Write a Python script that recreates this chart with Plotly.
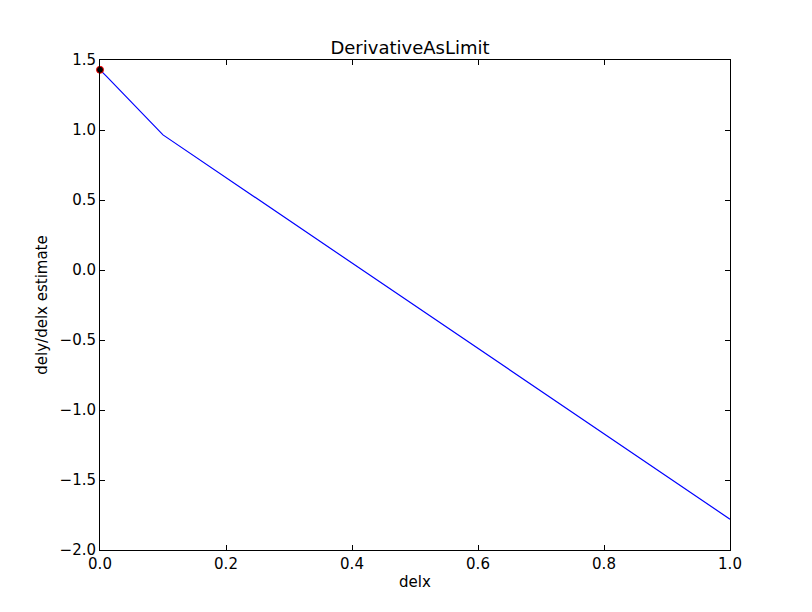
import plotly.graph_objects as go

delx = [1.0, 0.1, 0.01, 0.001, 0.0001]
estimate = [-1.78, 0.965, 1.385, 1.425, 1.429]
limit_x = [0.0]
limit_y = [1.43]

FONT = "DejaVu Sans"

fig = go.Figure()
fig.add_trace(go.Scatter(x=delx, y=estimate, mode="lines",
                         line=dict(color="#0000ff", width=1.2), showlegend=False))
fig.add_trace(go.Scatter(x=limit_x, y=limit_y, mode="markers",
                         marker=dict(color="black", size=7, line=dict(color="red", width=1)),
                         showlegend=False, cliponaxis=False))

axis_common = dict(showline=True, linecolor="black", linewidth=1, mirror="ticks",
                   ticks="inside", ticklen=5, tickcolor="black", showgrid=False,
                   zeroline=False, tickfont=dict(family=FONT, size=15, color="black"))
fig.update_layout(
    width=800, height=600,
    margin=dict(l=92, r=78, t=52, b=58),
    paper_bgcolor="white", plot_bgcolor="white",
    title=dict(text="DerivativeAsLimit", x=0.5125 - 8 / 800, xanchor="center", y=1 - 46 / 600, yanchor="bottom",
               font=dict(family=FONT, size=18, color="black")),
    xaxis=dict(range=[0, 1], tickvals=[0, 0.2, 0.4, 0.6, 0.8, 1.0], ticktext=["0.0", "0.2", "0.4", "0.6", "0.8", "1.0"],
               title=dict(text="delx", font=dict(family=FONT, size=15, color="black"), standoff=4),
               **axis_common),
    yaxis=dict(range=[-2, 1.5], tickvals=[-2, -1.5, -1, -0.5, 0, 0.5, 1, 1.5],
               ticktext=["\u22122.0", "\u22121.5", "\u22121.0", "\u22120.5", "0.0", "0.5", "1.0", "1.5"],
               title=dict(text="dely/delx estimate", font=dict(family=FONT, size=15, color="black"), standoff=8),
               **axis_common),
)
fig.write_html("out.html")
